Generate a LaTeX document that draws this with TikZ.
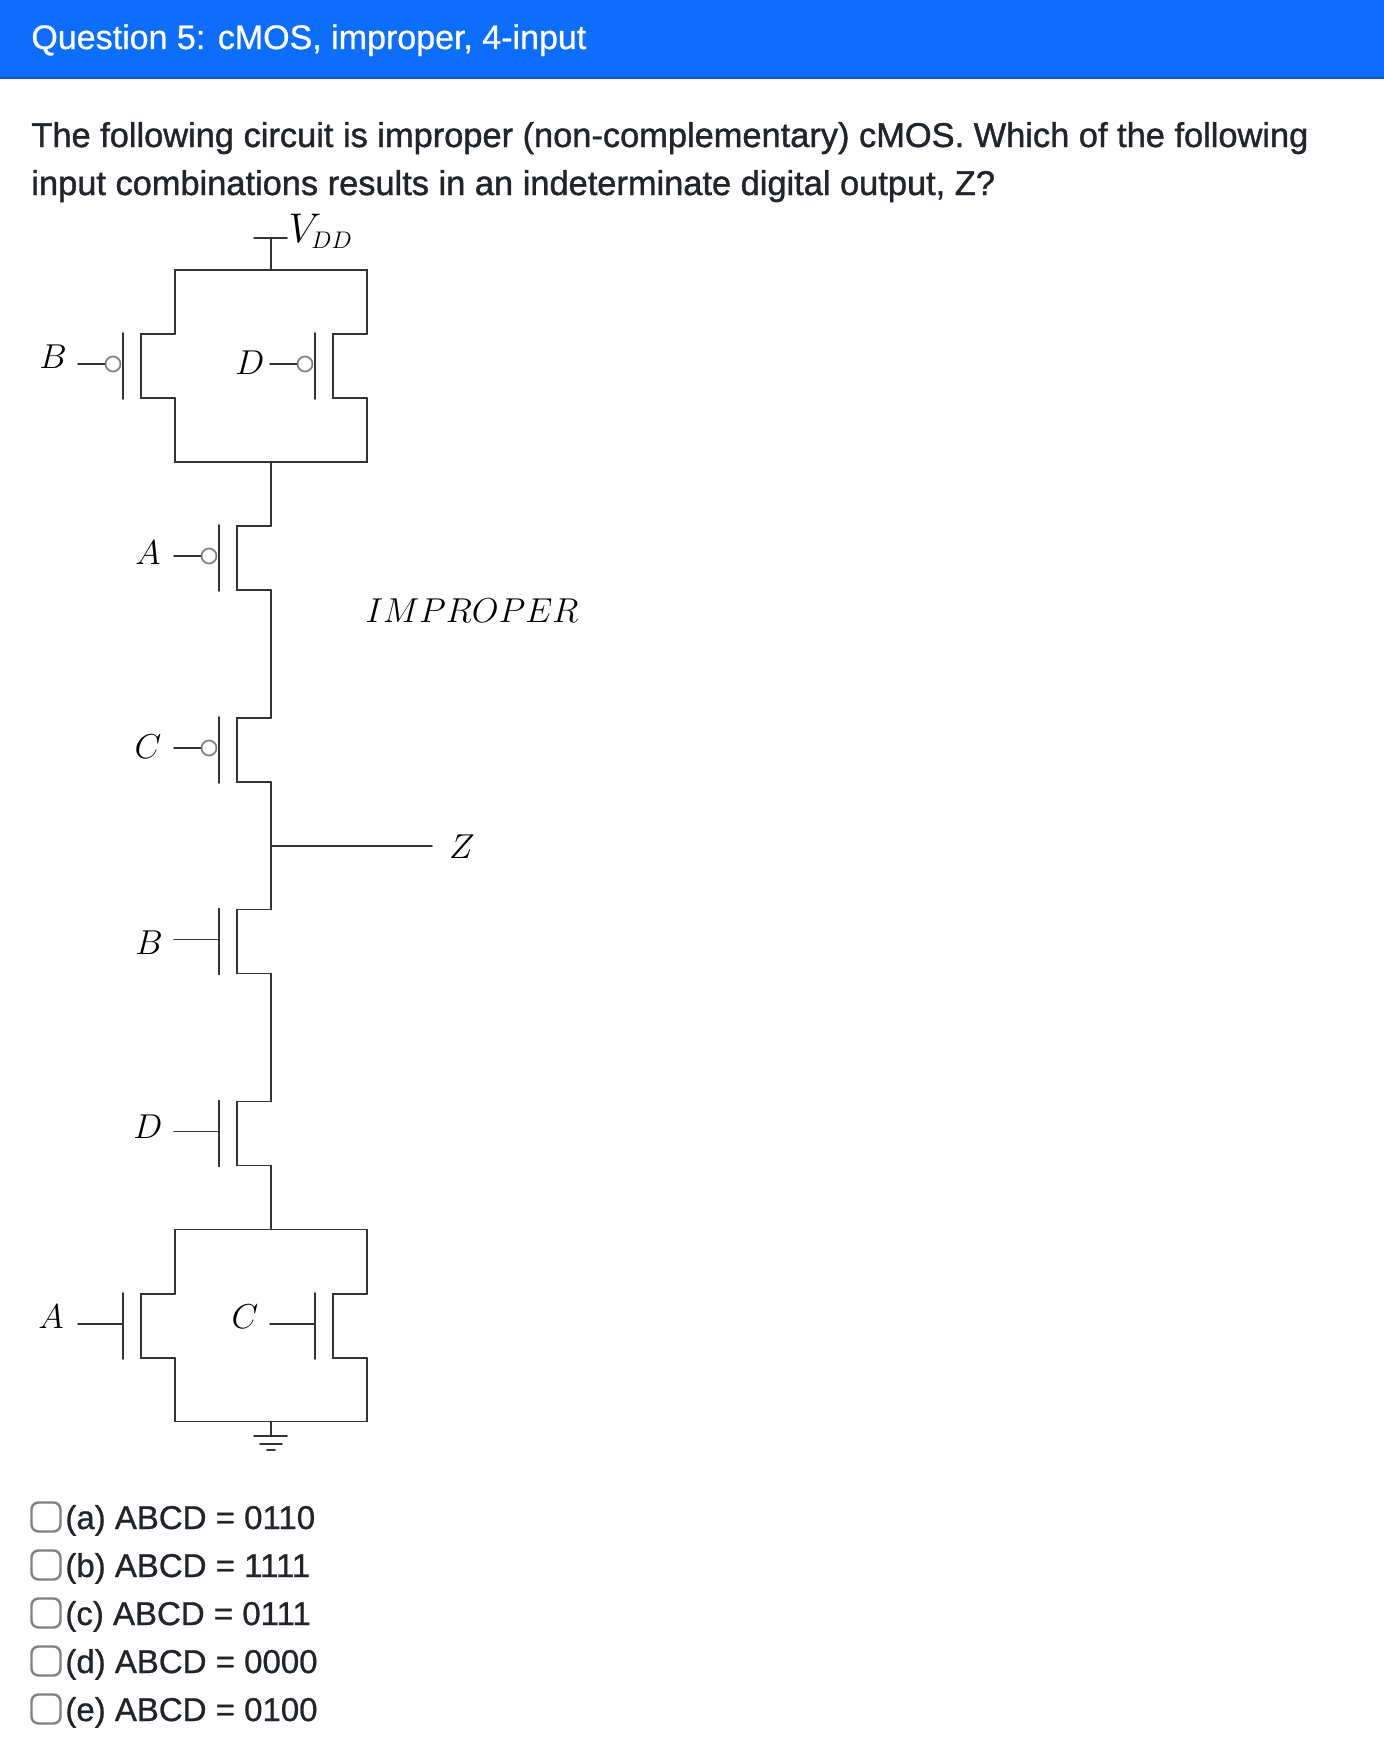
\documentclass[tikz,border=0pt]{standalone}
\usepackage{fontspec}
\setmainfont{Liberation Sans}
\usepackage{tikz}
\usetikzlibrary{positioning}
\definecolor{headblue}{HTML}{0D6EFD}
\definecolor{headline}{HTML}{0A58CA}
\definecolor{textgray}{HTML}{212529}
\definecolor{wiregray}{HTML}{333333}
\tikzset{
	wire/.style={wiregray, line width=0.85pt},
	pin/.style={font=\fontsize{18}{18}\selectfont, text=black, inner sep=0pt},
	bubble/.style={circle, draw=gray, line width=0.85pt, minimum size=7.5pt, inner sep=0pt},
	para/.style={anchor=base west, inner sep=0pt, text=textgray, font=\fontsize{17.2}{17.2}\selectfont\addfontfeatures{FakeBold=1.2}},
	ans/.style={para, font=\fontsize{16.5}{16.5}\selectfont\addfontfeatures{FakeBold=0.8}},
	tick/.style={draw=gray, rounded corners=3.5pt, line width=1.2pt, minimum size=14.5pt, inner sep=0pt},
}

\begin{document}
\begin{tikzpicture}[x=0.5pt, y=-0.5pt, every path/.append style={line cap=round}]
	\useasboundingbox (0,0) rectangle (1384,1762);
	\fill[headblue] (0,0) rectangle (1384,78);
	\fill[headline] (0,77) rectangle (1384,79);

	\node[para, text=white, font=\fontsize{17}{17}\selectfont\addfontfeatures{FakeBold=0.8}] (title) at (31,49) {Question 5: cMOS, improper, 4-input};
	\node[para] (line1) at (31,147) {The following circuit is improper (non-complementary) cMOS. Which of the following};
	\node[para] (line2) at (31,195) {input combinations results in an indeterminate digital output, Z?};

	% supply
	\coordinate (vdd) at (271,238);
	\coordinate (ptop) at (271,270);
	\coordinate (pbot) at (271,462);
	\coordinate (ntop) at (271,1229.5);
	\coordinate (nbot) at (271,1421.5);
	\coordinate (gnd) at (271,1436);
	\draw[wire] (254,238) -- (287,238);
	\draw[wire] (vdd) -- (ptop);
	\node[pin, font=\fontsize{20}{20}\selectfont] (vddlbl) at (305,228) {$V$};
	\node[pin, font=\fontsize{12.5}{12.5}\selectfont, anchor=west] (vddsub) at (311,240) {$DD$};

	% fets: name / x of channel / y of centre / label / label x / label y / 1 = bubble
	\foreach \n/\cx/\cy/\lab/\lx/\ly/\bub in {pb/175/366/B/53/357/1, pd/367/366/D/250/363/1,
		pa/271/558/A/148/553/1, pc/271/750/C/148/747/1, nb/271/941.5/B/149/943/0, nd/271/1133.5/D/148/1127/0,
		na/175/1326/A/51/1317/0, nc/367/1326/C/245/1317/0} {
		\coordinate (\n s) at (\cx,\cy-32);
		\coordinate (\n d) at (\cx,\cy+32);
		\draw[wire] (\n s) -- ++(-34,0) -- ++(0,64) -- (\n d);
		\draw[wire] (\cx-52,\cy-33) -- (\cx-52,\cy+33);
		\ifnum\bub=1
			\node[bubble] (\n b) at (\cx-62,\cy-2) {};
			\draw[wire] (\cx-97,\cy-2) -- (\n b);
		\else
			\draw[wire] (\cx-97,\cy-2) -- (\cx-52,\cy-2);
		\fi
		\node[pin] (\n l) at (\lx,\ly) {$\lab$};
	}

	% pull up, then the chain, then pull down
	\draw[wire] (pbs) |- (ptop) -| (pds);
	\draw[wire] (pbd) |- (pbot) -| (pdd);
	\draw[wire] (pbot) -- (pas);
	\draw[wire] (pad) -- (pcs);
	\draw[wire] (pcd) -- (nbs);
	\draw[wire] (nbd) -- (nds);
	\draw[wire] (ndd) -- (ntop);
	\draw[wire] (nas) |- (ntop) -| (ncs);
	\draw[wire] (nad) |- (nbot) -| (ncd);
	\draw[wire] (nbot) -- (gnd);
	\draw[wire] (254,1436) -- (287,1436);
	\draw[wire] (260,1444) -- (282,1444);
	\draw[wire] (267,1450) -- (275,1450);

	% output
	\coordinate (zout) at (271,846);
	\node[pin] (zlbl) at (462,847) {$Z$};
	\draw[wire] (zout) -- (432,846);
	\node[pin, font=\fontsize{18.6}{18.6}\selectfont] (impr) at (472,611) {$IMPROPER$};

	% answers
	\foreach \i/\y/\txt in {a/1529/{(a) ABCD = 0110}, b/1577/{(b) ABCD = 1111}, c/1625/{(c) ABCD = 0111},
		d/1673/{(d) ABCD = 0000}, e/1721/{(e) ABCD = 0100}} {
		\node[tick] (box\i) at (46,\y-12) {};
		\node[ans] (ans\i) at (65,\y) {\txt};
	}
\end{tikzpicture}
\end{document}
